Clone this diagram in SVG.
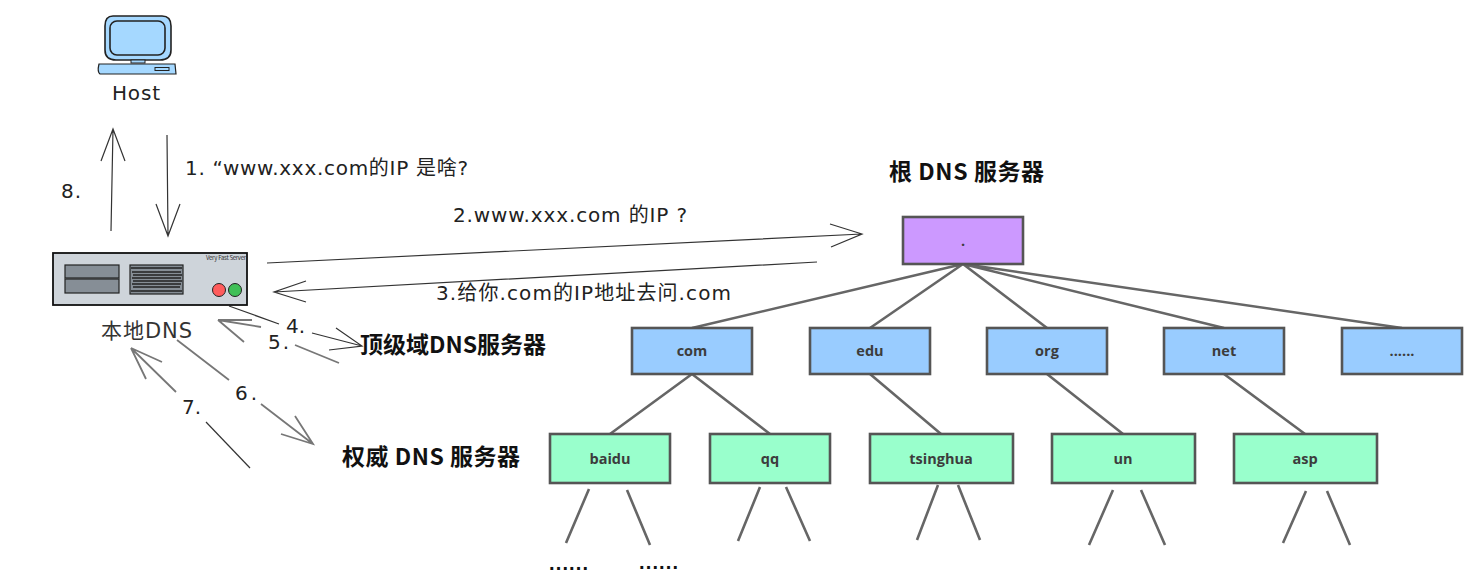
<svg xmlns="http://www.w3.org/2000/svg" width="1477" height="582" viewBox="0 0 1477 582">
<style>
text{font-family:"Noto Sans CJK SC","Noto Sans",sans-serif}
.box{stroke:#555;stroke-width:2.6}
.nl{font-size:14.5px;font-weight:700;fill:#3c3c3c;text-anchor:middle;font-family:"Open Sans","Noto Sans",sans-serif}
.title{font-size:23px;font-weight:700;fill:#111}
.hand{font-size:20px;fill:#222;font-family:"DejaVu Sans","Noto Sans CJK SC",sans-serif}
.e{stroke:#666;stroke-width:2.6;fill:none}
.a{stroke:#333;stroke-width:1.2;fill:none}
.g{stroke:#777;stroke-width:1.8;fill:none}
.sk{stroke:#222;fill:none}
</style>
<g id="connectors">
<g id="tree-edges">
<path class="e" d="M963 264L692 328M963 264L870 328M963 264L1047 328M963 264L1224 328M963 264L1402 328"/>
<path class="e" d="M692 374L610 434M692 374L770 434M870 374L941 434M1047 374L1123 434M1224 374L1305 434"/>
<path class="e" d="M589 489L566 543M627 490L650 545M760 487L738 541M786 487L810 541M938 485L917 540M958 485L980 540M1113 490L1089 545M1141 490L1165 545M1306 491L1283 543M1327 491L1350 545"/>
</g>
<g id="flow-arrows">
<path class="a" d="M111 231L113 129M101 161L113 129L125 161"/>
<path class="a" d="M167 135L168 236M156 204L168 236L180 204"/>
<path class="a" d="M267 263L862 234M830 224L862 234L831 247"/>
<path class="a" d="M817 262L274 292M306 281L274 292L306 302"/>
<path class="a" d="M229 306L279 324M312 333L362 346M336 328L362 346L329 350"/>
<path class="g" d="M295 345L339 363M261 327L218 320L252 320M218 320L244 342"/>
<path class="g" d="M177 340L229 380M261 404L313 444M295 416L313 444L281 434"/>
<path class="a" d="M250 468L206 422"/>
<path class="g" d="M176 392L131 348L162 362M131 348L146 379"/>
</g>
</g>
<g id="host">
<path d="M113 16H162Q171 16 171 26V50Q171 60 160 60H116Q105 60 105 50V26Q105 16 113 16Z" fill="#a5d8ff" stroke="#222" stroke-width="1.6"/>
<rect x="110" y="21" width="55" height="34" rx="7" fill="#a5d8ff" stroke="#222" stroke-width="1.6"/>
<rect x="131" y="60" width="14" height="3" fill="#a5d8ff" stroke="#222"/>
<path d="M99 64H175L176 74H100Q97 72 99 64Z" fill="#a5d8ff" stroke="#222" stroke-width="1.2"/>
<rect x="155" y="67.500" width="14" height="3" fill="#a5d8ff" stroke="#222"/>
<text x="112" y="100" class="hand" textLength="48">Host</text>
</g>
<g id="local-dns">
<rect x="53" y="253" width="194" height="52" fill="#ced4da" stroke="#111" stroke-width="1.8"/>
<rect x="65" y="265" width="54" height="13" fill="#868e96" stroke="#222" stroke-width="1.2"/>
<rect x="65" y="279" width="54" height="14" fill="#868e96" stroke="#222" stroke-width="1.2"/>
<rect x="130" y="265" width="53" height="29" fill="#868e96" stroke="#222" stroke-width="1.2"/>
<path class="sk" d="M131 268H182M132 272H181M133 275H182M132 278H181M133 281H182M132 284H181M133 287H180M131 291H182" stroke-width="1.6"/>
<circle cx="219" cy="290" r="6.500" fill="#ff5c5c" stroke="#222"/>
<circle cx="235" cy="290" r="6.500" fill="#40c057" stroke="#222"/>
<text x="206" y="260" font-size="6" fill="#333" textLength="40">Very Fast Server</text>
<text x="101" y="338" class="hand" textLength="91" style="font-size:21px;fill:#333">本地DNS</text>
</g>
<g id="flow-labels">
<text x="185" y="175" class="hand" textLength="283">1. “www.xxx.com的IP 是啥?</text>
<text x="61" y="198" class="hand" textLength="20">8.</text>
<text x="453" y="222" class="hand" textLength="234">2.www.xxx.com 的IP ?</text>
<text x="436" y="300" class="hand" textLength="295">3.给你.com的IP地址去问.com</text>
<text x="286" y="333" class="hand" textLength="19">4.</text>
<text x="268" y="349" class="hand" textLength="21">5.</text>
<text x="235" y="400" class="hand" textLength="22">6.</text>
<text x="182" y="414" class="hand" textLength="19">7.</text>
</g>
<g id="root-title"><text x="889" y="180" class="title" textLength="155">根 DNS 服务器</text></g>
<g id="tld-title"><text x="360" y="353" class="title" textLength="186">顶级域DNS服务器</text></g>
<g id="auth-title"><text x="342" y="465" class="title" textLength="178">权威 DNS 服务器</text></g>
<g id="root"><rect class="box" x="903" y="217" width="120" height="47" fill="#cc99ff"/><text class="nl" x="963" y="246">.</text></g>
<g id="com"><rect class="box" x="632" y="328" width="120" height="46" fill="#99ccff"/><text class="nl" x="692" y="356">com</text></g>
<g id="edu"><rect class="box" x="810" y="328" width="120" height="46" fill="#99ccff"/><text class="nl" x="870" y="356">edu</text></g>
<g id="org"><rect class="box" x="987" y="328" width="120" height="46" fill="#99ccff"/><text class="nl" x="1047" y="356">org</text></g>
<g id="net"><rect class="box" x="1164" y="328" width="120" height="46" fill="#99ccff"/><text class="nl" x="1224" y="356">net</text></g>
<g id="more"><rect class="box" x="1342" y="328" width="120" height="46" fill="#99ccff"/><text class="nl" x="1402" y="356">......</text></g>
<g id="baidu"><rect class="box" x="550" y="434" width="120" height="49" fill="#99ffcc"/><text class="nl" x="610" y="464">baidu</text></g>
<g id="qq"><rect class="box" x="710" y="434" width="120" height="49" fill="#99ffcc"/><text class="nl" x="770" y="464">qq</text></g>
<g id="tsinghua"><rect class="box" x="870" y="434" width="143" height="49" fill="#99ffcc"/><text class="nl" x="941" y="464">tsinghua</text></g>
<g id="un"><rect class="box" x="1052" y="434" width="143" height="49" fill="#99ffcc"/><text class="nl" x="1123" y="464">un</text></g>
<g id="asp"><rect class="box" x="1234" y="434" width="143" height="49" fill="#99ffcc"/><text class="nl" x="1305" y="464">asp</text></g>
<g id="dots">
<text x="549" y="570" font-size="20" font-weight="700" fill="#111" textLength="39" style="font-family:'Liberation Sans',sans-serif">......</text>
<text x="639" y="569" font-size="20" font-weight="700" fill="#111" textLength="39" style="font-family:'Liberation Sans',sans-serif">......</text>
</g>
</svg>
